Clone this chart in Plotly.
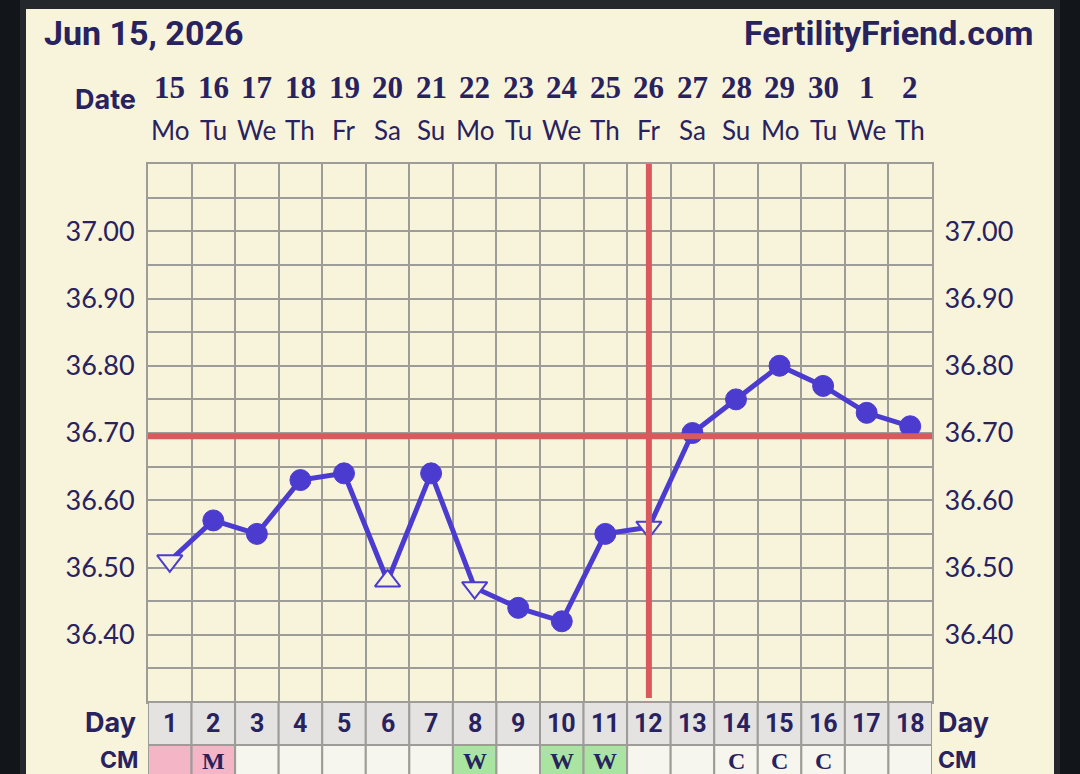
import plotly.graph_objects as go

# ---------------- data ----------------
cycle_days = list(range(1, 19))
date_nums = ["15", "16", "17", "18", "19", "20", "21", "22", "23", "24", "25", "26", "27", "28", "29", "30", "1", "2"]
weekdays = ["Mo", "Tu", "We", "Th", "Fr", "Sa", "Su", "Mo", "Tu", "We", "Th", "Fr", "Sa", "Su", "Mo", "Tu", "We", "Th"]
temps = [36.51, 36.57, 36.55, 36.63, 36.64, 36.48, 36.64, 36.47, 36.44, 36.42,
         36.55, 36.56, 36.70, 36.75, 36.80, 36.77, 36.73, 36.71]
point_kind = ["down", "dot", "dot", "dot", "dot", "up", "dot", "down", "dot", "dot",
              "dot", "down", "dot", "dot", "dot", "dot", "dot", "dot"]
cm_codes = ["", "M", "", "", "", "", "", "W", "", "W", "W", "", "", "C", "C", "C", "", ""]
period_days = [1, 2]
coverline = 36.695
ovulation_day = 12
y_ticks = [36.40, 36.50, 36.60, 36.70, 36.80, 36.90, 37.00]
title_left = "Jun 15, 2026"
title_right = "FertilityFriend.com"

# ---------------- style ----------------
CREAM = "#f8f4dc"
NAVY = "#28225e"
GRID = "#9d9c98"
RED = "#d9595c"
BLUE = "#4b3bcf"
PINK = "#f4b5c6"
GREEN = "#a9e5a0"
CELL = "#f6f6ee"
DAYCELL = "#e5e3e2"

W, H = 1080, 774
ML, MR, MT, MB = 148, 148, 164, 72
PW = W - ML - MR
PH = H - MT - MB


def px2x(px):
    return (px - ML) / PW


def py2y(py):
    return (H - MB - py) / PH


sym_map = {"dot": "circle", "down": "triangle-down", "up": "triangle-up"}
symbols = [sym_map[k] for k in point_kind]
fills = [BLUE if k == "dot" else CREAM for k in point_kind]
sizes = [21 if k == "dot" else 22 for k in point_kind]
line_w = [1 if k == "dot" else 2 for k in point_kind]

fig = go.Figure()
fig.add_trace(go.Scatter(
    x=cycle_days, y=temps, mode="lines+markers",
    line=dict(color=BLUE, width=5),
    marker=dict(symbol=symbols, color=fills, size=sizes, opacity=1,
                line=dict(color=BLUE, width=line_w)),
    hoverinfo="skip", showlegend=False,
))
# invisible trace for right-hand axis
fig.add_trace(go.Scatter(x=[cycle_days[0]], y=[temps[0]], yaxis="y2", mode="markers",
                         marker=dict(opacity=0), hoverinfo="skip", showlegend=False))

tick_text = [f"{v:.2f}" for v in y_ticks]
axis_font = dict(family="Lato, Roboto, sans-serif", size=27, color=NAVY)

fig.update_layout(
    width=W, height=H,
    margin=dict(l=ML, r=MR, t=MT, b=MB),
    paper_bgcolor=CREAM, plot_bgcolor=CREAM,
    xaxis=dict(range=[0.5, 18.5], tickmode="linear", tick0=0.5, dtick=1,
               showticklabels=False, showgrid=True, gridcolor=GRID, gridwidth=2,
               zeroline=False, showline=True, mirror=True, linecolor=GRID, linewidth=2,
               fixedrange=True),
    yaxis=dict(range=[36.30, 37.10], tickmode="array", tickvals=y_ticks, ticktext=tick_text,
               showgrid=True, gridcolor=GRID, gridwidth=2, zeroline=False,
               minor=dict(tick0=36.30, dtick=0.05, showgrid=True, gridcolor=GRID, gridwidth=2),
               ticks="outside", ticklen=6, tickcolor="rgba(0,0,0,0)",
               tickfont=axis_font, showline=True, mirror=True, linecolor=GRID, linewidth=2),
    yaxis2=dict(range=[36.30, 37.10], overlaying="y", side="right", tickmode="array",
                tickvals=y_ticks, ticktext=tick_text, showgrid=False, zeroline=False,
                ticks="outside", ticklen=6, tickcolor="rgba(0,0,0,0)", tickfont=axis_font),
)

shapes = []
annotations = []

# dark device frame
shapes += [
    dict(type="rect", xref="paper", yref="paper", x0=px2x(0), x1=px2x(20), y0=py2y(H), y1=py2y(0),
         fillcolor="#12151a", line_width=0, layer="above"),
    dict(type="rect", xref="paper", yref="paper", x0=px2x(20), x1=px2x(26), y0=py2y(H), y1=py2y(0),
         fillcolor="#24272c", line_width=0, layer="above"),
    dict(type="rect", xref="paper", yref="paper", x0=px2x(20), x1=px2x(1060), y0=py2y(9), y1=py2y(0),
         fillcolor="#24272c", line_width=0, layer="above"),
    dict(type="rect", xref="paper", yref="paper", x0=px2x(1054), x1=px2x(1060), y0=py2y(H), y1=py2y(0),
         fillcolor="#24272c", line_width=0, layer="above"),
    dict(type="rect", xref="paper", yref="paper", x0=px2x(1060), x1=px2x(W), y0=py2y(H), y1=py2y(0),
         fillcolor="#12151a", line_width=0, layer="above"),
]

# coverline and ovulation line
shapes.append(dict(type="line", xref="x", yref="y", x0=0.5, x1=18.5, y0=coverline, y1=coverline,
                   line=dict(color=RED, width=6), layer="above"))
shapes.append(dict(type="line", xref="x", yref="paper", x0=ovulation_day, x1=ovulation_day,
                   y0=py2y(698), y1=1.0, line=dict(color=RED, width=6), layer="above"))

# day row and CM row
day_top, day_bot = py2y(702), py2y(745)
cm_top, cm_bot = py2y(745), py2y(792)
for i, d in enumerate(cycle_days):
    shapes.append(dict(type="rect", xref="x", yref="paper", x0=d - 0.5, x1=d + 0.5,
                       y0=day_bot, y1=day_top, fillcolor=DAYCELL,
                       line=dict(color=GRID, width=2), layer="above"))
    code = cm_codes[i]
    if d in period_days:
        col = PINK
    elif code == "W":
        col = GREEN
    else:
        col = CELL
    shapes.append(dict(type="rect", xref="x", yref="paper", x0=d - 0.5, x1=d + 0.5,
                       y0=cm_bot, y1=cm_top, fillcolor=col,
                       line=dict(color=GRID, width=2), layer="above"))
    annotations.append(dict(x=d, y=py2y(723), xref="x", yref="paper", text=f"<b>{d}</b>",
                            showarrow=False, xanchor="center", yanchor="middle",
                            font=dict(family="Roboto, sans-serif", size=25, color=NAVY)))
    if code:
        annotations.append(dict(x=d, y=py2y(761), xref="x", yref="paper", text=f"<b>{code}</b>",
                                showarrow=False, xanchor="center", yanchor="middle",
                                font=dict(family="Liberation Serif, serif", size=24, color=NAVY)))
    # date header
    annotations.append(dict(x=d, y=py2y(87), xref="x", yref="paper", text=f"<b>{date_nums[i]}</b>",
                            showarrow=False, xanchor="center", yanchor="middle",
                            font=dict(family="Liberation Serif, serif", size=31, color=NAVY)))
    annotations.append(dict(x=d, y=py2y(130), xref="x", yref="paper", text=weekdays[i],
                            showarrow=False, xanchor="center", yanchor="middle",
                            font=dict(family="Lato, Roboto, sans-serif", size=26, color=NAVY)))

label_font = dict(family="Inter, Roboto, sans-serif", size=27, color=NAVY)
cm_font = dict(family="Inter, Roboto, sans-serif", size=23, color=NAVY)
annotations += [
    dict(x=px2x(138), y=py2y(99), xref="paper", yref="paper", text="<b>Date</b>", showarrow=False,
         xanchor="right", yanchor="middle", font=label_font),
    dict(x=px2x(138), y=py2y(722), xref="paper", yref="paper", text="<b>Day</b>", showarrow=False,
         xanchor="right", yanchor="middle", font=label_font),
    dict(x=px2x(140), y=py2y(760), xref="paper", yref="paper", text="<b>CM</b>", showarrow=False,
         xanchor="right", yanchor="middle", font=cm_font),
    dict(x=px2x(936), y=py2y(722), xref="paper", yref="paper", text="<b>Day</b>", showarrow=False,
         xanchor="left", yanchor="middle", font=label_font),
    dict(x=px2x(936), y=py2y(760), xref="paper", yref="paper", text="<b>CM</b>", showarrow=False,
         xanchor="left", yanchor="middle", font=cm_font),
    dict(x=px2x(42), y=py2y(33), xref="paper", yref="paper", text=f"<b>{title_left}</b>", showarrow=False,
         xanchor="left", yanchor="middle", font=dict(family="Roboto, sans-serif", size=34, color=NAVY)),
    dict(x=px2x(1036), y=py2y(33), xref="paper", yref="paper", text=f"<b>{title_right}</b>", showarrow=False,
         xanchor="right", yanchor="middle", font=dict(family="Roboto, sans-serif", size=34, color=NAVY)),
]

fig.update_layout(shapes=shapes, annotations=annotations)
fig.write_html("out.html")
